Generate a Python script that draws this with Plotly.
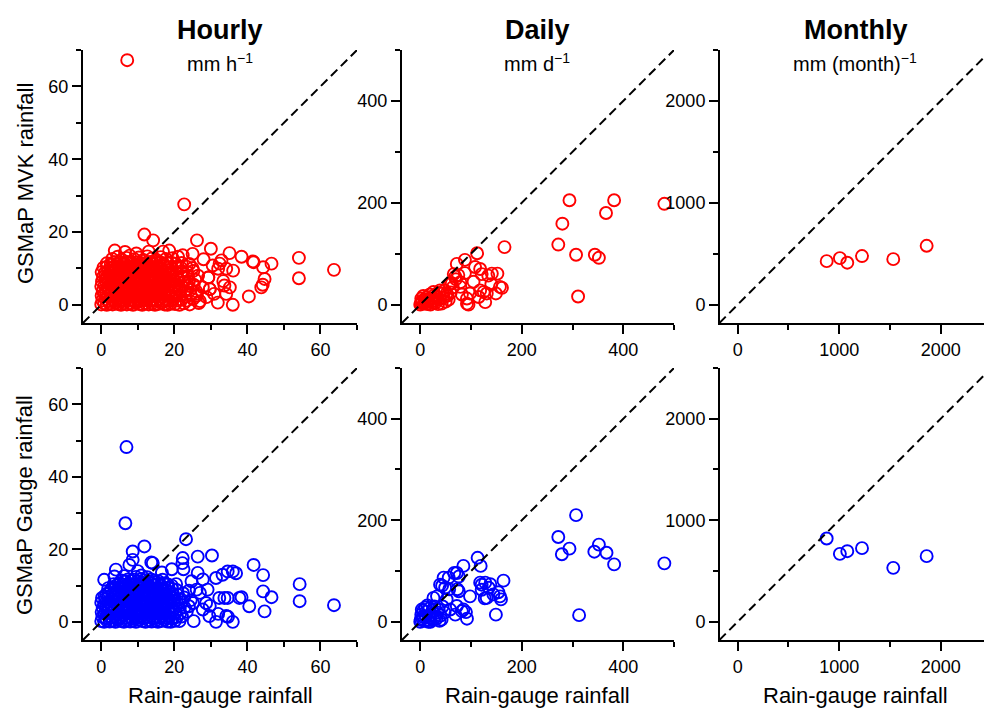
import plotly.graph_objects as go

W, H = 984, 708

# ---------------- Hourly (mm h-1) ----------------
# GSMaP MVK vs rain gauge
hourly_mvk_gauge = [
    0.0, 0.8, 1.5, 2.3, 3.1, 3.9, 4.6, 5.4, 6.2, 7.0,
    7.9, 8.7, 9.5, 10.4, 11.2, 12.1, 13.0, 13.8, 14.7, 15.5,
    16.4, 17.3, 18.1, 19.0, 20.2, 21.4, 22.6, 24.2, 26.7, 28.8,
    0.3, 1.2, 2.0, 2.9, 3.6, 4.4, 5.2, 6.0, 6.9, 7.7,
    8.5, 9.3, 10.1, 11.0, 11.8, 12.6, 13.5, 14.3, 15.2, 16.0,
    16.9, 17.8, 18.7, 19.6, 20.7, 22.0, 23.3, 25.1, 27.0, 31.9,
    0.1, 0.9, 1.7, 2.5, 3.3, 4.1, 4.9, 5.7, 6.5, 7.3,
    8.2, 9.0, 9.9, 10.7, 11.5, 12.4, 13.2, 14.1, 14.9, 15.8,
    16.6, 17.5, 18.4, 19.3, 20.4, 21.6, 23.0, 24.5, 26.2, 30.9,
    0.4, 1.3, 2.1, 3.0, 3.8, 4.6, 5.5, 6.3, 7.1, 8.0,
    8.8, 9.7, 10.5, 11.4, 12.2, 13.1, 13.9, 14.8, 15.7, 16.5,
    17.4, 18.3, 19.2, 20.3, 21.5, 22.8, 24.4, 26.0, 29.7, 34.2,
    0.0, 0.9, 1.8, 2.6, 3.5, 4.3, 5.1, 6.0, 6.8, 7.6,
    8.5, 9.3, 10.2, 11.0, 11.9, 12.7, 13.6, 14.4, 15.3, 16.2,
    17.0, 17.9, 18.8, 19.8, 20.9, 22.1, 23.6, 25.3, 27.8, 35.2,
    0.2, 1.1, 1.9, 2.8, 3.6, 4.5, 5.3, 6.1, 7.0, 7.8,
    8.7, 9.5, 10.4, 11.2, 12.1, 12.9, 13.8, 14.6, 15.5, 16.4,
    17.3, 18.2, 19.1, 20.1, 21.3, 22.7, 24.0, 25.7, 33.4, 43.8,
    0.5, 1.4, 2.2, 3.1, 3.9, 4.8, 5.6, 6.5, 7.3, 8.2,
    9.0, 9.9, 10.7, 11.6, 12.4, 13.3, 14.1, 15.0, 15.9, 16.8,
    17.7, 18.6, 19.6, 20.8, 22.2, 23.8, 26.5, 29.3, 44.7, 54.1,
    0.1, 1.0, 1.9, 2.7, 3.6, 4.4, 5.3, 6.1, 7.0, 7.8,
    8.7, 9.6, 10.4, 11.3, 12.1, 13.0, 13.9, 14.7, 15.6, 16.5,
    17.4, 18.4, 19.4, 20.6, 22.0, 23.5, 25.2, 32.0, 34.2, 36.1,
    0.6, 1.6, 2.5, 3.4, 4.2, 5.1, 5.9, 6.8, 7.6, 8.5,
    9.4, 10.2, 11.1, 11.9, 12.8, 13.7, 14.5, 15.4, 16.3, 17.2,
    18.2, 19.3, 20.5, 21.8, 23.3, 25.0, 44.3, 63.7, 46.6, 41.7,
    1.5, 2.6, 3.5, 4.4, 5.3, 6.2, 7.1, 8.0, 8.9, 9.8,
    10.7, 11.6, 12.5, 13.4, 14.3, 15.2, 16.1, 17.1, 18.1, 19.2,
    20.4, 22.0, 24.1, 32.9, 3.0, 4.5, 5.6, 6.9, 7.8, 9.1,
    10.3, 11.5, 12.6, 13.8, 15.0, 16.3, 17.7, 19.5, 22.3, 25.0,
    38.4, 54.1, 3.7, 18.6, 11.8, 14.2, 26.2, 30.0, 35.1, 22.7,
    7.1, 40.4, 36.0, 29.7, 33.7, 44.2, 6.5, 9.6, 16.9, 41.5,
    29.3, 32.4, 21.0, 13.0, 28.0, 30.5, 23.5, 26.0,
]
hourly_mvk_sat = [
    0.1, 0.4, 0.0, 0.3, 0.1, 0.5, 0.2, 0.0, 0.4, 0.1,
    0.3, 0.0, 0.5, 0.2, 0.0, 0.4, 0.1, 0.3, 0.0, 0.2,
    0.5, 0.1, 0.0, 0.3, 0.2, 0.0, 0.4, 0.1, 0.5, 2.1,
    1.2, 1.5, 1.0, 1.4, 1.1, 1.6, 1.3, 1.0, 1.5, 1.2,
    1.4, 1.0, 1.6, 1.1, 1.3, 1.5, 1.0, 1.4, 1.2, 1.6,
    1.1, 1.3, 1.0, 1.5, 1.2, 1.4, 1.1, 1.6, 1.0, 0.6,
    2.5, 2.8, 2.3, 2.7, 2.4, 2.9, 2.6, 2.3, 2.8, 2.5,
    2.4, 2.9, 2.6, 2.3, 2.7, 2.5, 2.8, 2.4, 2.6, 2.9,
    2.3, 2.7, 2.5, 2.4, 2.8, 2.6, 2.3, 2.7, 2.5, 3.0,
    3.8, 3.6, 4.1, 3.7, 4.0, 3.6, 4.2, 3.9, 3.7, 4.1,
    3.8, 3.6, 4.0, 4.2, 3.7, 3.9, 4.1, 3.6, 3.8, 4.0,
    3.7, 4.2, 3.9, 3.6, 4.0, 3.8, 4.1, 3.7, 4.3, 3.0,
    5.1, 5.4, 4.9, 5.3, 5.0, 5.5, 5.2, 4.9, 5.4, 5.1,
    5.3, 5.0, 5.5, 5.2, 4.9, 5.4, 5.1, 5.3, 5.0, 5.5,
    5.2, 4.9, 5.3, 5.1, 5.4, 5.0, 5.2, 5.5, 4.8, 4.8,
    6.4, 6.7, 6.2, 6.6, 6.3, 6.8, 6.5, 6.2, 6.7, 6.4,
    6.6, 6.3, 6.8, 6.5, 6.2, 6.7, 6.4, 6.6, 6.3, 6.5,
    6.8, 6.2, 6.6, 6.4, 6.7, 6.3, 6.5, 6.9, 6.5, 4.8,
    7.7, 7.5, 8.0, 7.6, 7.9, 7.5, 8.1, 7.8, 7.6, 8.0,
    7.7, 7.5, 7.9, 8.1, 7.6, 7.8, 8.0, 7.5, 7.7, 7.9,
    7.6, 8.1, 7.8, 7.5, 7.9, 7.7, 8.0, 7.5, 7.1, 7.3,
    9.0, 8.8, 9.3, 8.9, 9.2, 8.8, 9.4, 9.0, 8.9, 9.3,
    9.1, 8.8, 9.2, 9.4, 8.9, 9.1, 9.3, 8.8, 9.0, 9.2,
    8.9, 9.4, 9.1, 8.8, 9.2, 9.0, 9.3, 9.9, 9.9, 9.4,
    10.2, 10.5, 10.0, 10.4, 10.1, 10.6, 10.3, 10.0, 10.5, 10.2,
    10.4, 10.1, 10.6, 10.3, 10.0, 10.5, 10.2, 10.4, 10.1, 10.6,
    10.3, 10.0, 10.4, 10.2, 10.5, 10.1, 10.3, 9.6, 11.3, 11.7,
    11.4, 11.2, 11.7, 11.3, 11.6, 11.2, 11.8, 11.5, 11.3, 11.7,
    11.4, 11.2, 11.6, 11.8, 11.3, 11.5, 11.7, 11.2, 11.4, 11.6,
    11.3, 11.5, 11.2, 12.2, 12.6, 13.2, 12.4, 12.9, 13.5, 12.5,
    13.0, 12.3, 13.3, 12.7, 12.4, 13.1, 12.6, 12.8, 13.6, 14.0,
    13.2, 12.9, 14.9, 14.9, 19.3, 17.7, 17.7, 15.4, 14.2, 27.6,
    67.2, 2.3, 0.0, 4.3, 5.3, 5.5, 14.5, 14.1, 14.6, 11.9,
    7.5, 11.3, 13.2, 14.6, 12.5, 10.8, 6.0, 3.0,
]

# GSMaP Gauge vs rain gauge
hourly_gg_gauge = [
    0.0, 0.8, 1.5, 2.3, 3.1, 3.9, 4.6, 5.4, 6.2, 7.0,
    7.9, 8.7, 9.5, 10.4, 11.2, 12.1, 13.0, 13.8, 14.7, 15.5,
    16.4, 17.3, 18.1, 19.0, 20.2, 21.4, 25.3, 31.4, 36.0, 34.7,
    0.3, 1.2, 2.0, 2.9, 3.6, 4.4, 5.2, 6.0, 6.9, 7.7,
    8.5, 9.3, 10.1, 11.0, 11.8, 12.6, 13.5, 14.3, 15.2, 16.0,
    16.9, 17.8, 18.7, 19.6, 20.7, 22.1, 29.6, 32.0, 34.2, 27.8,
    0.1, 0.9, 1.7, 2.5, 3.3, 4.1, 4.9, 5.7, 6.5, 7.3,
    8.2, 9.0, 9.9, 10.7, 11.5, 12.4, 13.2, 14.1, 14.9, 15.8,
    16.6, 17.5, 18.4, 19.3, 20.4, 21.6, 23.4, 24.0, 40.5, 44.7,
    0.4, 1.3, 2.1, 3.0, 3.8, 4.6, 5.5, 6.3, 7.1, 8.0,
    8.8, 9.7, 10.5, 11.4, 12.2, 13.1, 13.9, 14.8, 15.7, 16.5,
    17.4, 18.3, 19.2, 20.3, 21.5, 22.8, 28.7, 25.1, 29.7, 63.7,
    0.0, 0.9, 1.8, 2.6, 3.5, 4.3, 5.1, 6.0, 6.8, 7.6,
    8.5, 9.3, 10.2, 11.0, 11.9, 12.7, 13.6, 14.4, 15.3, 16.2,
    17.0, 17.9, 18.8, 19.8, 20.9, 22.1, 24.5, 54.3, 32.3, 34.6,
    0.2, 1.1, 1.9, 2.8, 3.6, 4.5, 5.3, 6.1, 7.0, 7.8,
    8.7, 9.5, 10.4, 11.2, 12.1, 12.9, 13.8, 14.6, 15.5, 16.4,
    17.3, 18.2, 19.1, 20.1, 21.3, 22.7, 37.8, 38.4, 46.6, 33.7,
    1.4, 2.2, 3.1, 3.9, 4.8, 5.6, 6.5, 7.3, 8.2, 9.0,
    9.9, 10.7, 11.6, 12.4, 13.3, 14.1, 15.0, 15.9, 16.8, 17.7,
    18.6, 19.6, 20.8, 22.4, 26.1, 29.1, 44.3, 27.0, 24.0, 0.9,
    1.9, 2.7, 3.6, 4.4, 5.3, 6.1, 7.0, 7.8, 8.7, 9.6,
    10.4, 11.3, 12.1, 13.0, 13.9, 14.7, 15.6, 16.5, 17.4, 18.4,
    19.4, 20.6, 54.3, 3.4, 4.2, 5.1, 5.9, 6.8, 7.6, 8.5,
    9.4, 10.2, 11.1, 11.9, 12.8, 13.7, 14.5, 15.4, 16.3, 17.2,
    18.2, 19.3, 20.5, 24.7, 27.8, 31.4, 33.2, 5.5, 6.4, 7.3,
    8.2, 9.1, 10.0, 10.9, 11.8, 12.7, 13.6, 14.5, 15.6, 16.8,
    0.8, 3.6, 4.0, 7.7, 8.6, 8.6, 11.8, 14.1, 13.7, 16.6,
    6.6, 6.9, 23.2, 26.4, 30.3, 22.3, 22.2, 26.4, 34.6, 36.0,
    36.9, 41.7, 44.3, 9.5, 11.0, 12.6, 19.3, 22.5, 6.2, 10.0,
]
hourly_gg_sat = [
    0.2, 0.0, 0.4, 0.1, 0.3, 0.0, 0.5, 0.2, 0.0, 0.4,
    0.1, 0.3, 0.0, 0.5, 0.2, 0.0, 0.4, 0.1, 0.3, 0.0,
    0.2, 0.5, 0.1, 0.0, 0.3, 0.2, 0.2, 0.0, 0.0, 1.4,
    1.4, 1.1, 1.6, 1.2, 1.5, 1.0, 1.3, 1.6, 1.1, 1.4,
    1.0, 1.5, 1.2, 1.6, 1.1, 1.3, 1.5, 1.0, 1.4, 1.2,
    1.6, 1.1, 1.4, 1.0, 1.3, 1.5, 1.6, 2.2, 1.6, 3.4,
    2.7, 2.4, 2.9, 2.5, 2.8, 2.3, 2.6, 2.9, 2.4, 2.7,
    2.5, 2.3, 2.8, 2.6, 2.9, 2.4, 2.7, 2.5, 2.3, 2.8,
    2.6, 2.4, 2.9, 2.5, 2.7, 2.3, 2.8, 4.3, 4.3, 2.9,
    3.9, 4.2, 3.7, 4.1, 3.8, 4.0, 3.6, 4.2, 3.9, 3.7,
    4.1, 3.8, 3.6, 4.0, 4.2, 3.7, 3.9, 4.1, 3.6, 3.8,
    4.0, 3.7, 4.2, 3.9, 3.6, 4.0, 5.2, 5.2, 4.4, 4.6,
    5.3, 5.0, 5.5, 5.1, 5.4, 4.9, 5.2, 5.5, 5.0, 5.3,
    5.1, 5.4, 4.9, 5.3, 5.0, 5.5, 5.2, 4.9, 5.4, 5.1,
    5.3, 5.0, 5.5, 5.2, 4.9, 5.4, 6.0, 5.7, 6.6, 6.6,
    6.6, 6.3, 6.8, 6.4, 6.7, 6.2, 6.5, 6.8, 6.3, 6.6,
    6.4, 6.7, 6.2, 6.6, 6.3, 6.8, 6.5, 6.2, 6.7, 6.4,
    6.6, 6.3, 6.8, 6.5, 6.2, 6.7, 6.6, 6.8, 6.8, 6.6,
    7.7, 8.0, 7.6, 7.9, 7.5, 8.1, 7.8, 7.6, 8.0, 7.7,
    7.5, 7.9, 8.1, 7.6, 7.8, 8.0, 7.5, 7.7, 7.9, 7.6,
    8.1, 7.8, 7.5, 7.9, 8.9, 8.9, 8.4, 8.0, 8.6, 7.1,
    9.3, 8.9, 9.2, 8.8, 9.4, 9.0, 8.9, 9.3, 9.1, 8.8,
    9.2, 9.4, 8.9, 9.1, 9.3, 8.8, 9.0, 9.2, 8.9, 9.4,
    9.1, 8.8, 10.4, 10.4, 10.1, 10.6, 10.3, 10.0, 10.5, 10.2,
    10.4, 10.1, 10.6, 10.3, 10.0, 10.5, 10.2, 10.4, 10.1, 10.6,
    10.3, 10.0, 10.4, 11.2, 11.7, 12.1, 13.0, 11.4, 11.2, 11.7,
    11.3, 11.6, 11.2, 11.8, 11.5, 11.3, 11.7, 11.4, 11.2, 11.6,
    11.6, 12.5, 14.4, 15.7, 17.1, 19.4, 20.8, 16.2, 16.4, 13.6,
    27.2, 48.2, 22.8, 18.0, 18.3, 17.6, 16.2, 13.5, 13.9, 13.9,
    13.4, 15.7, 12.9, 12.4, 12.8, 12.3, 14.5, 14.5, 12.6, 14.0,
]

# ---------------- Daily (mm d-1) ----------------
daily_mvk_gauge = [
    0, 3, 7, 10, 14, 17, 21, 25, 28, 32,
    35, 2, 6, 12, 19, 4, 9, 15, 23, 30,
    38, 42, 46, 50, 54, 1, 20, 27, 44, 36,
    48, 56, 60, 64, 58, 70, 66, 72, 88, 112,
    118, 121, 141, 152, 161, 149, 131, 128, 118, 98,
    92, 92, 79, 79, 69, 62, 52, 39, 26, 75,
    88, 82, 95, 125, 157, 166, 272, 280, 294, 307,
    311, 344, 352, 366, 382, 481, 108, 134, 140, 105,
    115,
]
daily_mvk_sat = [
    0, 5, 2, 9, 1, 6, 12, 3, 8, 15,
    1, 12, 17, 14, 20, 8, 4, 10, 7, 4,
    11, 2, 14, 6, 18, 3, 0, 18, 22, 24,
    28, 10, 24, 34, 40, 50, 60, 80, 88, 101,
    70, 60, 61, 61, 33, 22, 22, 5, 28, 22,
    2, 12, 35, 44, 55, 42, 22, 28, 25, 58,
    62, 20, 0, 25, 35, 113, 118, 159, 205, 98,
    16, 98, 92, 180, 205, 198, 74, 57, 40, 45,
    15,
]
daily_gg_gauge = [
    0, 4, 8, 11, 15, 19, 22, 26, 30, 34,
    38, 2, 6, 12, 18, 5, 10, 16, 24, 28,
    32, 36, 40, 44, 1, 20, 42, 48, 14, 3,
    26, 33, 39, 43, 46, 49, 52, 56, 57, 59,
    67, 69, 72, 73, 72, 76, 76, 82, 85, 85,
    90, 92, 98, 113, 119, 118, 121, 121, 128, 127,
    131, 135, 138, 144, 149, 154, 157, 159, 164, 272,
    279, 294, 307, 313, 343, 352, 367, 382, 481,
]
daily_gg_sat = [
    0, 6, 2, 10, 3, 8, 14, 4, 10, 18,
    2, 14, 22, 20, 26, 10, 28, 0, 22, 30,
    6, 24, 12, 30, 4, 0, 4, 18, 32, 24,
    47, 50, 73, 71, 87, 67, 44, 87, 64, 24,
    96, 14, 96, 64, 31, 89, 60, 21, 110, 24,
    19, 6, 50, 126, 110, 77, 63, 73, 77, 46,
    47, 67, 74, 54, 14, 58, 50, 44, 81, 167,
    133, 144, 210, 13, 138, 152, 136, 113, 115,
]

# ---------------- Monthly (mm month-1) ----------------
monthly_gauge = [877, 1007, 1080, 1225, 1533, 1862]
monthly_mvk_sat = [427, 457, 412, 477, 447, 578]
monthly_gg_sat = [820, 669, 695, 725, 531, 646]

column_titles = ["Hourly", "Daily", "Monthly"]
column_units = ["mm h<sup>\u22121</sup>", "mm d<sup>\u22121</sup>",
                "mm (month)<sup>\u22121</sup>"]
row_titles = ["GSMaP MVK rainfall", "GSMaP Gauge rainfall"]
x_title = "Rain-gauge rainfall"

FONT = "Liberation Sans, Arial, Helvetica, sans-serif"

# panel frames in pixels (left, right) / (top, bottom)
col_px = [(83, 357), (402, 674), (720, 984)]
row_px = [(50, 323), (368, 640)]
col_centre = [220, 537, 855]

x_ranges = [(-5, 70), (-36, 500), (-174, 2427)]
y_ranges = [(-5, 70), (-36, 500), (-180, 2500)]
major = [20, 200, 1000]
minor = [10, 100, 500]

panels = [
    [(hourly_mvk_gauge, hourly_mvk_sat), (daily_mvk_gauge, daily_mvk_sat),
     (monthly_gauge, monthly_mvk_sat)],
    [(hourly_gg_gauge, hourly_gg_sat), (daily_gg_gauge, daily_gg_sat),
     (monthly_gauge, monthly_gg_sat)],
]
row_colors = ["#ff0000", "#0000ff"]


def fx(p):
    return p / W


def fy(p):
    return 1 - p / H


fig = go.Figure()
layout = dict(
    width=W, height=H, margin=dict(l=0, r=0, t=0, b=0),
    paper_bgcolor="white", plot_bgcolor="white", showlegend=False,
    font=dict(family=FONT, color="black"),
)

n = 0
for r in range(2):
    for c in range(3):
        n += 1
        xa = "x" if n == 1 else f"x{n}"
        ya = "y" if n == 1 else f"y{n}"
        xs, ys = panels[r][c]
        fig.add_trace(go.Scatter(
            x=xs, y=ys, xaxis=xa, yaxis=ya, mode="markers",
            marker=dict(symbol="circle-open", size=12, color=row_colors[r],
                        line=dict(width=1.9, color=row_colors[r])),
            hoverinfo="skip",
        ))
        lo = min(x_ranges[c][0], y_ranges[c][0])
        hi = max(x_ranges[c][1], y_ranges[c][1])
        fig.add_trace(go.Scatter(
            x=[lo, hi], y=[lo, hi], xaxis=xa, yaxis=ya, mode="lines",
            line=dict(color="black", width=2, dash="9px,5px"),
            hoverinfo="skip",
        ))
        tick_common = dict(
            showline=True, linecolor="black", linewidth=2,
            ticks="outside", ticklen=9, tickwidth=1.6, tickcolor="black",
            showgrid=False, zeroline=False, fixedrange=True,
            tickfont=dict(size=18, color="black", family=FONT),
            tick0=0, dtick=major[c],
            minor=dict(ticks="outside", ticklen=5, tickwidth=1.6,
                       tickcolor="black", dtick=minor[c], tick0=0,
                       showgrid=False),
        )
        layout["xaxis" if n == 1 else f"xaxis{n}"] = dict(
            tick_common, anchor=ya, range=list(x_ranges[c]),
            domain=[fx(col_px[c][0]), fx(col_px[c][1])])
        layout["yaxis" if n == 1 else f"yaxis{n}"] = dict(
            tick_common, anchor=xa, range=list(y_ranges[c]),
            domain=[fy(row_px[r][1]), fy(row_px[r][0])])

annotations = []
for c in range(3):
    annotations.append(dict(
        text=f"<b>{column_titles[c]}</b>", x=fx(col_centre[c]), y=fy(30),
        xref="paper", yref="paper", showarrow=False, xanchor="center",
        yanchor="middle", font=dict(size=27, family=FONT, color="black")))
    annotations.append(dict(
        text=column_units[c], x=fx(col_centre[c]), y=fy(63),
        xref="paper", yref="paper", showarrow=False, xanchor="center",
        yanchor="middle", font=dict(size=20, family=FONT, color="black")))
    annotations.append(dict(
        text=x_title, x=fx(col_centre[c]), y=fy(695),
        xref="paper", yref="paper", showarrow=False, xanchor="center",
        yanchor="middle", font=dict(size=22, family=FONT, color="black")))
for r, yc in enumerate([184, 505]):
    annotations.append(dict(
        text=row_titles[r], x=fx(25), y=fy(yc), textangle=-90,
        xref="paper", yref="paper", showarrow=False, xanchor="center",
        yanchor="middle", font=dict(size=22, family=FONT, color="black")))

layout["annotations"] = annotations
fig.update_layout(**layout)
fig.write_html("out.html")
